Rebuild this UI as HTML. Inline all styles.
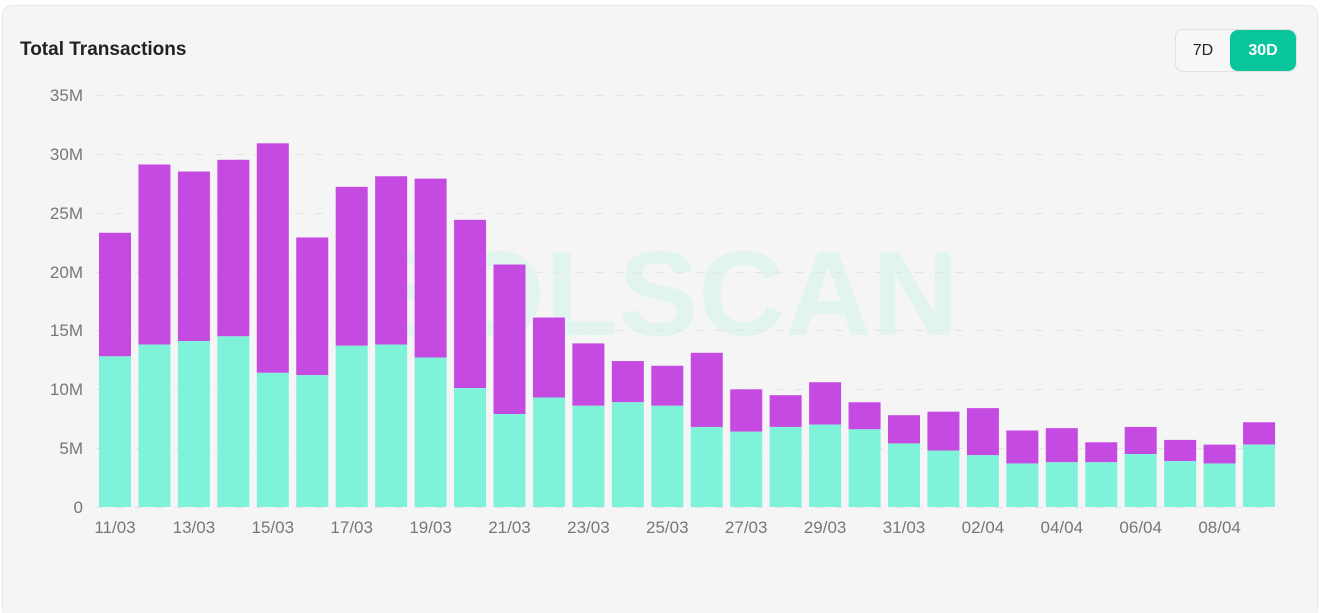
<!DOCTYPE html>
<html style="overflow:hidden"><head><meta charset="utf-8"><style>
html,body{margin:0;width:1327px;height:613px;overflow:hidden}
body{background:#fff;font-family:"Liberation Sans",sans-serif;position:relative}
.card{position:absolute;left:2px;top:5px;width:1316px;height:615px;background:#f5f5f5;border:1px solid #e8e8e8;border-radius:10px;box-sizing:border-box}
.title{position:absolute;left:20px;top:39px;font-size:19px;font-weight:bold;color:#222}
.btns{position:absolute;left:1175px;top:29px;height:41px;width:120px;border:1px solid #e2e2e2;border-radius:8px;background:#f7f7f7;overflow:hidden}
.b7{position:absolute;left:0;top:0;width:54px;height:41px;line-height:41px;text-align:center;font-size:16px;color:#222}
.b30{position:absolute;left:54px;top:0;width:66px;height:41px;line-height:41px;text-align:center;font-size:16px;color:#fff;background:#08c59b;font-weight:bold;border-radius:8px}
</style></head><body>
<div class="card"></div>
<div class="title">Total Transactions</div>
<div class="btns"><div class="b7">7D</div><div class="b30">30D</div></div>
<svg width="1327" height="613" style="position:absolute;left:0;top:0">
<text x="665" y="335" font-size="120" font-weight="bold" fill="#e2f4ef" text-anchor="middle" font-family="Liberation Sans">SOLSCAN</text>
<g stroke="#e4e4e4" stroke-dasharray="8,12" stroke-width="1">
<line x1="95" x2="1275" y1="95.5" y2="95.5"/><line x1="95" x2="1275" y1="154.5" y2="154.5"/><line x1="95" x2="1275" y1="213.5" y2="213.5"/><line x1="95" x2="1275" y1="272.5" y2="272.5"/><line x1="95" x2="1275" y1="330.5" y2="330.5"/><line x1="95" x2="1275" y1="389.5" y2="389.5"/><line x1="95" x2="1275" y1="448.5" y2="448.5"/><line x1="95" x2="1275" y1="507.5" y2="507.5"/>
</g>
<g font-size="17" fill="#777" text-anchor="end">
<text x="83" y="101">35M</text><text x="83" y="160">30M</text><text x="83" y="219">25M</text><text x="83" y="278">20M</text><text x="83" y="336">15M</text><text x="83" y="395">10M</text><text x="83" y="454">5M</text><text x="83" y="513">0</text>
</g>
<g id="bars"></g>
<g id="labels" font-size="17" fill="#777" text-anchor="middle"></g>
</svg>
<script>
var d=[[23.3,12.8],[29.1,13.8],[28.5,14.1],[29.5,14.5],[30.9,11.4],[22.9,11.2],[27.2,13.7],[28.1,13.8],[27.9,12.7],[24.4,10.1],[20.6,7.9],[16.1,9.3],[13.9,8.6],[12.4,8.9],[12.0,8.6],[13.1,6.8],[10.0,6.4],[9.5,6.8],[10.6,7.0],[8.9,6.6],[7.8,5.4],[8.1,4.8],[8.4,4.4],[6.5,3.7],[6.7,3.8],[5.5,3.8],[6.8,4.5],[5.7,3.9],[5.3,3.7],[7.2,5.3]];
var labs=["11/03","13/03","15/03","17/03","19/03","21/03","23/03","25/03","27/03","29/03","31/03","02/04","04/04","06/04","08/04"];
var s="",k=11.77,b=507;
d.forEach(function(v,i){var x=99+i*39.45;s+='<rect x="'+x+'" y="'+(b-v[0]*k)+'" width="32" height="'+((v[0]-v[1])*k)+'" fill="#c54ae1"/>';s+='<rect x="'+x+'" y="'+(b-v[1]*k)+'" width="32" height="'+(v[1]*k)+'" fill="#7ff3da"/>';});
document.getElementById("bars").innerHTML=s;
var t="";labs.forEach(function(l,i){t+='<text x="'+(115+i*2*39.45)+'" y="533">'+l+'</text>';});
document.getElementById("labels").innerHTML=t;
</script>
</body></html>
